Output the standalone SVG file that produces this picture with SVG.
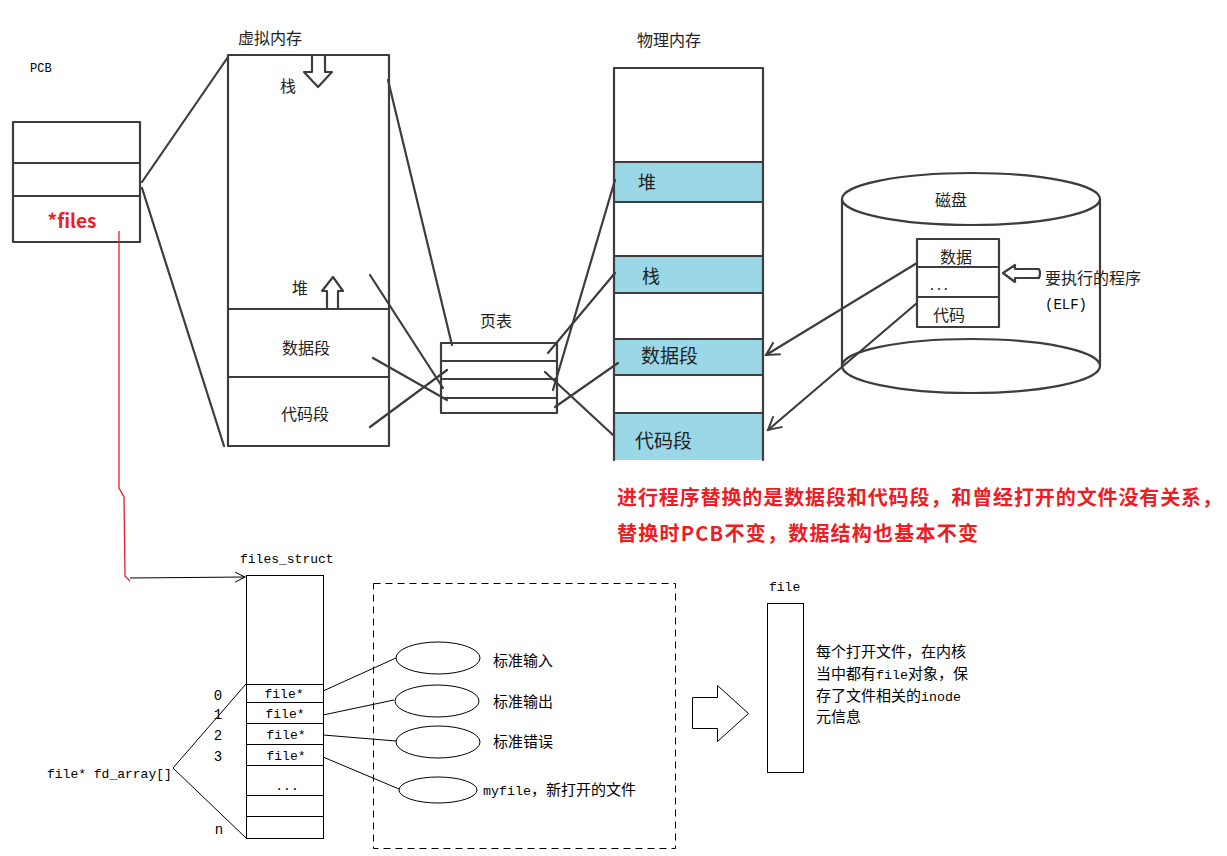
<svg xmlns="http://www.w3.org/2000/svg" width="1227" height="856" viewBox="0 0 1227 856">
<defs>
<style>
.sk{fill:none;stroke:#3c3c3c;stroke-width:2.2;stroke-linecap:round;stroke-linejoin:round}
.skt{font-family:"Noto Sans CJK SC","Noto Sans",sans-serif;fill:#222}
.thin{fill:none;stroke:#000;stroke-width:1}
.mono{font-family:"Liberation Mono","Noto Sans CJK SC",monospace;fill:#000}
.cjk{font-family:"Noto Sans CJK SC",sans-serif;fill:#000}
.red{font-family:"Noto Sans CJK SC",sans-serif;font-weight:bold;fill:#ee1c25}
.cyan{fill:#9ad7e7;stroke:none}
</style>
<filter id="soft" x="-5%" y="-5%" width="110%" height="110%"><feGaussianBlur stdDeviation="0.45"/></filter>
<marker id="ah" markerUnits="userSpaceOnUse" markerWidth="20" markerHeight="20" refX="14" refY="8" orient="auto"><path d="M1,1 L14,8 L1,15" fill="none" stroke="#3c3c3c" stroke-width="2"/></marker>
<marker id="ah2" markerUnits="userSpaceOnUse" markerWidth="14" markerHeight="14" refX="11" refY="6" orient="auto"><path d="M1,1 L11,6 L1,11" fill="none" stroke="#000" stroke-width="1"/></marker>
</defs>
<rect width="1227" height="856" fill="#fff"/>

<!-- PCB -->
<g id="pcb">
<text x="30" y="72" class="mono" font-size="12">PCB</text>
<g filter="url(#soft)">
<rect x="13" y="122" width="127" height="120" class="sk"/>
<line x1="13" y1="163" x2="140" y2="163" class="sk"/>
<line x1="13" y1="196" x2="140" y2="196" class="sk"/>
</g>
<text x="72" y="228" class="red" font-size="19" text-anchor="middle">*files</text>
</g>

<!-- Virtual memory -->
<g id="vmem">
<text x="238" y="44" class="skt" font-size="16">虚拟内存</text>
<g filter="url(#soft)">
<rect x="228" y="55" width="161" height="391" class="sk"/>
<line x1="228" y1="309" x2="389" y2="309" class="sk"/>
<line x1="228" y1="377" x2="389" y2="377" class="sk"/>
<path d="M312,55 L325,55 L325,72 L332,72 L318,87 L304,72 L312,72 Z" class="sk" fill="#fff"/>
<path d="M333,277 L343,291 L338,291 L338,309 L327,309 L327,291 L322,291 Z" class="sk" fill="#fff"/>
</g>
<text x="280" y="92" class="skt" font-size="16">栈</text>
<text x="292" y="294" class="skt" font-size="16">堆</text>
<text x="282" y="354" class="skt" font-size="16">数据段</text>
<text x="281" y="420" class="skt" font-size="16">代码段</text>
</g>

<!-- Page table -->
<g id="pagetable">
<text x="480" y="327" class="skt" font-size="16">页表</text>
<g filter="url(#soft)">
<rect x="441" y="343" width="116" height="70" class="sk"/>
<line x1="441" y1="361" x2="557" y2="361" class="sk"/>
<line x1="441" y1="379" x2="557" y2="379" class="sk"/>
<line x1="441" y1="398" x2="557" y2="398" class="sk"/>
</g>
</g>

<!-- Physical memory -->
<g id="pmem">
<text x="637" y="46" class="skt" font-size="16">物理内存</text>
<rect x="614" y="162" width="149" height="40" class="cyan"/>
<rect x="614" y="256" width="149" height="37" class="cyan"/>
<rect x="614" y="339" width="149" height="36" class="cyan"/>
<rect x="614" y="413" width="149" height="47" class="cyan"/>
<g filter="url(#soft)">
<path d="M614,460 L614,68 L763,68 L763,460" class="sk"/>
<line x1="614" y1="162" x2="763" y2="162" class="sk"/>
<line x1="614" y1="202" x2="763" y2="202" class="sk"/>
<line x1="614" y1="256" x2="763" y2="256" class="sk"/>
<line x1="614" y1="293" x2="763" y2="293" class="sk"/>
<line x1="614" y1="339" x2="763" y2="339" class="sk"/>
<line x1="614" y1="375" x2="763" y2="375" class="sk"/>
<line x1="614" y1="413" x2="763" y2="413" class="sk"/>
</g>
<text x="638" y="189" class="skt" font-size="18">堆</text>
<text x="642" y="283" class="skt" font-size="18">栈</text>
<text x="641" y="363" class="skt" font-size="19">数据段</text>
<text x="635" y="448" class="skt" font-size="19">代码段</text>
</g>

<!-- Disk -->
<g id="disk">
<g filter="url(#soft)">
<ellipse cx="971" cy="199" rx="129" ry="26" class="sk"/>
<line x1="842" y1="199" x2="842" y2="366" class="sk"/>
<line x1="1100" y1="199" x2="1100" y2="366" class="sk"/>
<ellipse cx="971" cy="366" rx="129" ry="27" class="sk"/>
<rect x="917" y="239" width="82" height="88" class="sk"/>
<line x1="917" y1="267" x2="999" y2="267" class="sk"/>
<line x1="917" y1="297" x2="999" y2="297" class="sk"/>
<path d="M1003,273 L1015,265 L1015,269 L1039,269 Q1041,273 1039,278 L1015,278 L1015,282 Z" class="sk" fill="#fff"/>
</g>
<text x="935" y="206" class="skt" font-size="16">磁盘</text>
<text x="940" y="263" class="skt" font-size="16">数据</text>
<text x="930" y="290" class="skt" font-size="14" letter-spacing="3">...</text>
<text x="933" y="321" class="skt" font-size="16">代码</text>
<text x="1045" y="284" class="skt" font-size="16">要执行的程序</text>
<text x="1045" y="309" class="mono" font-size="14">(ELF)</text>
</g>

<!-- Sketch connectors -->
<g id="connectors-top" filter="url(#soft)">
<line x1="142" y1="182" x2="228" y2="57" class="sk"/>
<line x1="142" y1="188" x2="224" y2="446" class="sk"/>
<line x1="388" y1="80" x2="452" y2="345" class="sk"/>
<line x1="370" y1="275" x2="443" y2="388" class="sk"/>
<line x1="373" y1="358" x2="447" y2="400" class="sk"/>
<line x1="370" y1="427" x2="447" y2="370" class="sk"/>
<line x1="548" y1="353" x2="615" y2="273" class="sk"/>
<line x1="553" y1="390" x2="615" y2="180" class="sk"/>
<line x1="545" y1="372" x2="613" y2="435" class="sk"/>
<line x1="555" y1="407" x2="618" y2="363" class="sk"/>
<line x1="917" y1="263" x2="766" y2="355" class="sk" marker-end="url(#ah)"/>
<line x1="917" y1="303" x2="768" y2="430" class="sk" marker-end="url(#ah)"/>
</g>

<!-- Red note -->
<g id="note">
<text x="617" y="505" class="red" font-size="20" textLength="605" lengthAdjust="spacing">进行程序替换的是数据段和代码段，和曾经打开的文件没有关系，</text>
<text x="617" y="541" class="red" font-size="20" textLength="361" lengthAdjust="spacing">替换时PCB不变，数据结构也基本不变</text>
</g>

<!-- files pointer -->
<g id="connectors-bottom">
<path d="M119,231 L119,488 L124,497 L125,576 L130,581" fill="none" stroke="#e8202a" stroke-width="1.3"/>
<line x1="130" y1="578" x2="245" y2="577" class="thin" marker-end="url(#ah2)"/>
<line x1="173" y1="768" x2="246" y2="684" class="thin"/>
<line x1="173" y1="768" x2="246" y2="838" class="thin"/>
<line x1="323" y1="691" x2="396" y2="658" class="thin"/>
<line x1="323" y1="715" x2="394" y2="700" class="thin"/>
<line x1="323" y1="735" x2="396" y2="741" class="thin"/>
<line x1="323" y1="757" x2="399" y2="789" class="thin"/>
</g>

<!-- files_struct -->
<g id="files_struct" shape-rendering="crispEdges">
<text x="240" y="563" class="mono" font-size="13">files_struct</text>
<rect x="246.5" y="575.5" width="77" height="263" class="thin"/>
<line x1="246" y1="684.5" x2="323" y2="684.5" class="thin"/>
<line x1="246" y1="702.5" x2="323" y2="702.5" class="thin"/>
<line x1="246" y1="723.5" x2="323" y2="723.5" class="thin"/>
<line x1="246" y1="744.5" x2="323" y2="744.5" class="thin"/>
<line x1="246" y1="765.5" x2="323" y2="765.5" class="thin"/>
<line x1="246" y1="795.5" x2="323" y2="795.5" class="thin"/>
<line x1="246" y1="816.5" x2="323" y2="816.5" class="thin"/>
<text x="284" y="698" class="mono" font-size="13" text-anchor="middle">file*</text>
<text x="285" y="718" class="mono" font-size="13" text-anchor="middle">file*</text>
<text x="286" y="739" class="mono" font-size="13" text-anchor="middle">file*</text>
<text x="286" y="760" class="mono" font-size="13" text-anchor="middle">file*</text>
<text x="287" y="790" class="mono" font-size="13" text-anchor="middle">...</text>
<text x="218" y="700" class="mono" font-size="14" text-anchor="middle">0</text>
<text x="218" y="719" class="mono" font-size="14" text-anchor="middle">1</text>
<text x="218" y="740" class="mono" font-size="14" text-anchor="middle">2</text>
<text x="218" y="761" class="mono" font-size="14" text-anchor="middle">3</text>
<text x="219" y="834" class="mono" font-size="14" text-anchor="middle">n</text>
<text x="47" y="778" class="mono" font-size="13">file* fd_array[]</text>
</g>

<!-- open files -->
<g id="openfiles">
<rect x="373.5" y="583.5" width="302" height="265" fill="none" stroke="#000" stroke-width="1" stroke-dasharray="7,5"/>
<ellipse cx="438" cy="658" rx="42" ry="16" class="thin"/>
<ellipse cx="437" cy="701" rx="42" ry="16" class="thin"/>
<ellipse cx="438" cy="742" rx="42" ry="16" class="thin"/>
<ellipse cx="438" cy="790" rx="39" ry="13" class="thin"/>
<text x="493" y="666" class="cjk" font-size="15">标准输入</text>
<text x="493" y="707" class="cjk" font-size="15">标准输出</text>
<text x="493" y="747" class="cjk" font-size="15">标准错误</text>
<text x="483" y="795" class="cjk" font-size="15"><tspan class="mono" font-size="13.3">myfile</tspan>，新打开的文件</text>
</g>

<!-- big arrow -->
<g id="bigarrow">
<path d="M692.5,697.5 L717.5,697.5 L717.5,685.5 L748.5,713.5 L717.5,741.5 L717.5,728.5 L692.5,728.5 Z" class="thin"/>
</g>

<!-- file object -->
<g id="fileobj">
<text x="769" y="591" class="mono" font-size="13">file</text>
<rect x="767.5" y="603.5" width="36" height="169" class="thin" shape-rendering="crispEdges"/>
<text x="816" y="657" class="cjk" font-size="15">每个打开文件，在内核</text>
<text x="816" y="679" class="cjk" font-size="15">当中都有<tspan class="mono" font-size="13.3">file</tspan>对象，保</text>
<text x="816" y="701" class="cjk" font-size="15">存了文件相关的<tspan class="mono" font-size="13.3">inode</tspan></text>
<text x="816" y="722" class="cjk" font-size="15">元信息</text>
</g>
</svg>
